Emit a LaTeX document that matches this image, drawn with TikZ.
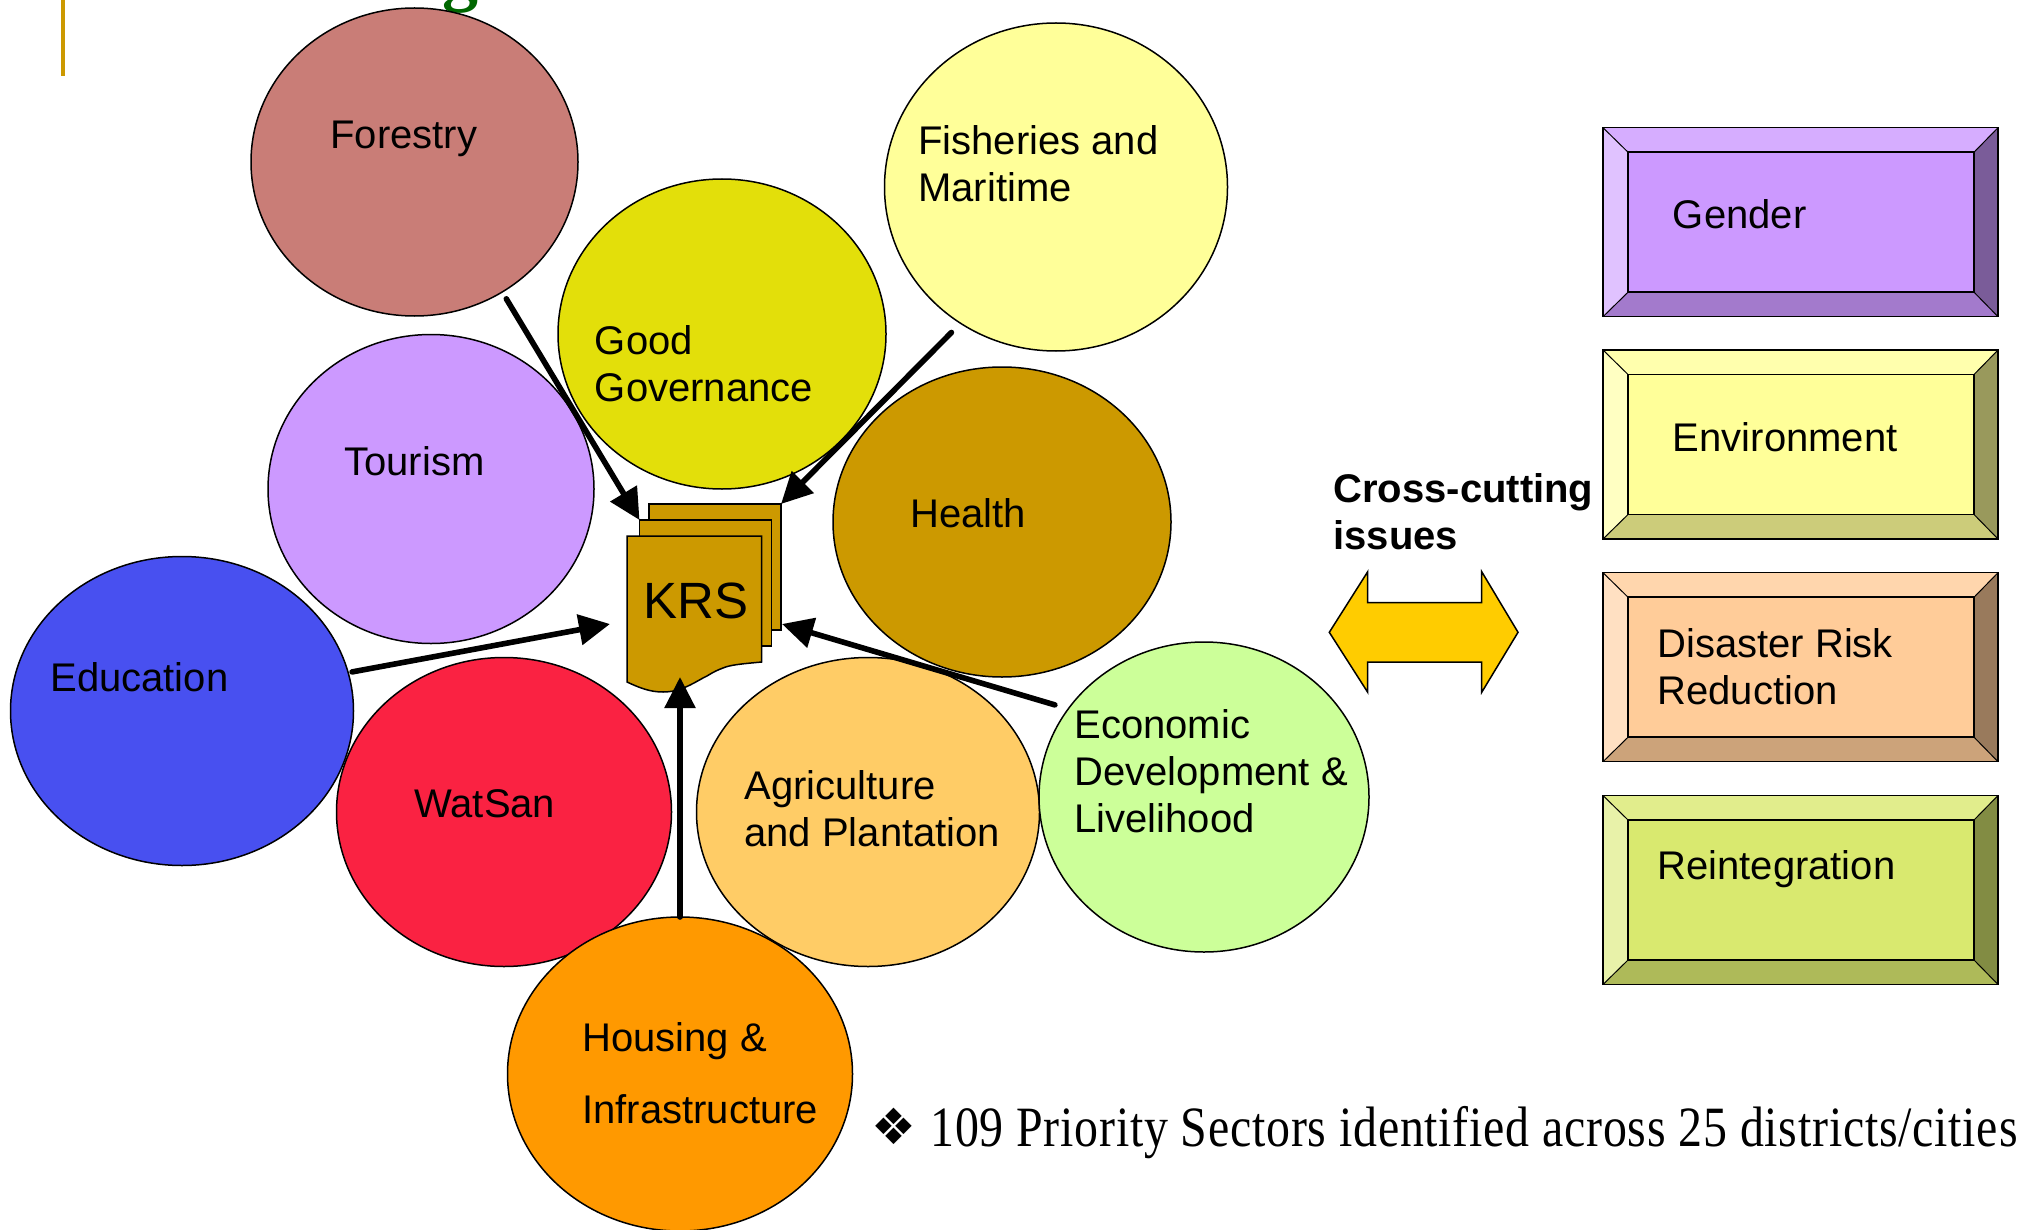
\documentclass[tikz,border=0pt]{standalone}
\usepackage{fontspec}
\setmainfont{Liberation Sans}
\newfontfamily\headingfont{Liberation Serif}
\newfontfamily\bottomfont[FakeStretch=0.84,LetterSpace=1.35]{Liberation Serif}
\newfontfamily\symbolfont{DejaVu Sans}
\usetikzlibrary{arrows.meta,shapes.geometric}
\definecolor{krsgold}{HTML}{CC9900}
\definecolor{gendercol}{HTML}{CC99FF}
\definecolor{environmentcol}{HTML}{FFFF99}
\definecolor{disastercol}{HTML}{FFCC99}
\definecolor{reintegrationcol}{HTML}{D9E96F}
\tikzset{
  sector/.style={draw, ellipse, line width=0.75pt, inner sep=0pt, outer sep=0pt},
  sectortext/.style={anchor=west, align=left, inner sep=0pt, font=\fontsize{20}{23.5}\selectfont},
  docpage/.style={draw, line width=0.75pt, fill=krsgold, inner sep=0pt, outer sep=0pt},
  krsarrow/.style={line width=2.8pt, line cap=round, -{Triangle[length=15.5pt,width=15pt]}},
}
\begin{document}
\begin{tikzpicture}[x=0.5pt, y=-0.5pt]
\def\bevelbox[#1][#2]{
  \fill[#2!60!white] (1603,#1) -- (1628,#1+24.5) -- (1628,#1+164.5) -- (1603,#1+189) -- cycle;
  \fill[#2!80!white] (1603,#1) -- (1998,#1) -- (1974,#1+24.5) -- (1628,#1+24.5) -- cycle;
  \fill[#2!60!black] (1998,#1) -- (1998,#1+189) -- (1974,#1+164.5) -- (1974,#1+24.5) -- cycle;
  \fill[#2!80!black] (1603,#1+189) -- (1998,#1+189) -- (1974,#1+164.5) -- (1628,#1+164.5) -- cycle;
  \draw[line width=0.75pt, fill=#2] (1628,#1+24.5) rectangle (1974,#1+164.5);
  \draw[line width=0.75pt] (1603,#1) rectangle (1998,#1+189);
  \draw[line width=0.5pt] (1603,#1) -- (1628,#1+24.5) (1998,#1) -- (1974,#1+24.5)
    (1603,#1+189) -- (1628,#1+164.5) (1998,#1+189) -- (1974,#1+164.5);
}
\useasboundingbox (0,0) rectangle (2022,1230);

\fill[krsgold] (61,0) rectangle (65,76);
\node[anchor=base, inner sep=0pt, text=green!40!black, font=\headingfont\fontsize{36}{36}\selectfont\bfseries] (headingtail) at (460,-2) {g};

\node[sector, fill={rgb,255:red,201;green,125;blue,119}, minimum width=163.5pt, minimum height=154pt] (forestry) at (414.5,162) {};
\node[sector, fill={rgb,255:red,255;green,255;blue,153}, minimum width=171.5pt, minimum height=164pt] (fisheries) at (1056,187) {};
\node[sector, fill={rgb,255:red,204;green,153;blue,255}, minimum width=163pt, minimum height=154.5pt] (tourism) at (431,489) {};
\node[sector, fill={rgb,255:red,227;green,223;blue,10}, minimum width=164pt, minimum height=155pt] (governance) at (722,334) {};
\node[sector, fill=krsgold, minimum width=169pt, minimum height=155pt] (health) at (1002,522) {};
\node[sector, fill={rgb,255:red,72;green,80;blue,240}, minimum width=171.5pt, minimum height=154.5pt] (education) at (182,711) {};
\node[sector, fill={rgb,255:red,250;green,34;blue,66}, minimum width=167.5pt, minimum height=154.5pt] (watsan) at (504,812) {};
\node[sector, fill={rgb,255:red,255;green,204;blue,102}, minimum width=171.5pt, minimum height=154.5pt] (agriculture) at (868,812) {};
\node[sector, fill={rgb,255:red,204;green,255;blue,153}, minimum width=165pt, minimum height=155pt] (economic) at (1204,797) {};
\node[sector, fill={rgb,255:red,255;green,153;blue,0}, minimum width=172.5pt, minimum height=157pt] (housing) at (680,1074) {};

\node[sectortext] (forestrytext) at (330,139) {Forestry};
\node[sectortext] (fisheriestext) at (918,164) {Fisheries and\\Maritime};
\node[sectortext] (governancetext) at (594.5,363.5) {Good\\Governance};
\node[sectortext] (tourismtext) at (344,461) {Tourism};
\node[sectortext] (healthtext) at (910,513) {Health};
\node[sectortext] (educationtext) at (50,677) {Education};
\node[sectortext] (watsantext) at (414,804) {WatSan};
\node[sectortext] (agriculturetext) at (744,809) {Agriculture\\and Plantation};
\node[sectortext] (economictext) at (1074,771) {Economic\\Development \&\\Livelihood};
\node[sectortext, font=\fontsize{20}{36}\selectfont] (housingtext) at (582,1073) {Housing \&\\Infrastructure};

% KRS document stack
\node[docpage, minimum width=66pt, minimum height=63pt] (krsback) at (715,567) {};
\node[docpage, minimum width=66pt, minimum height=63pt] (krsmiddle) at (705.5,583) {};
\draw[line width=0.75pt, fill=krsgold] (627,536) -- (761.7,536) -- (761.7,662)
  .. controls (740,664) and (730,665) .. (723,668)
  .. controls (712,672) and (708,676) .. (703,678)
  .. controls (692,684) and (680,692) .. (663,692)
  .. controls (650,692) and (640,688) .. (627,682) -- cycle;
\node[inner sep=0pt, font=\fontsize{25.5}{25.5}\selectfont] (krs) at (696,601) {KRS};
\coordinate (krstipleft) at (610,624);
\coordinate (krstipright) at (782,624);
\coordinate (krstipbottom) at (680,677);

\draw[krsarrow, shorten <=4pt] (forestry.-56) -- (krsmiddle.north west);
\draw[krsarrow, shorten <=6.5pt] (fisheries.235) -- (krsback.north east);
\draw[krsarrow, shorten <=2pt] (education.13) -- (krstipleft);
\draw[krsarrow, shorten <=7pt] (economic.147) -- (krstipright);
\draw[krsarrow] (housing.north) -- (krstipbottom);

% cross-cutting issues
\node[sectortext, font=\fontsize{20}{23.5}\selectfont\bfseries] (crosscutting) at (1333,512) {Cross-cutting\\issues};
\draw[line width=0.75pt, fill={rgb,255:red,255;green,204;blue,0}] (1329.3,632.3) -- (1367.7,571.7) -- (1367.7,602.7) -- (1481.7,602.7) -- (1481.7,571.7) -- (1518,632.3) -- (1481.7,692.3) -- (1481.7,662) -- (1367.7,662) -- (1367.7,692.3) -- cycle;

\bevelbox[127.7][gendercol]
\bevelbox[350][environmentcol]
\bevelbox[572.7][disastercol]
\bevelbox[795.5][reintegrationcol]
\node[sectortext] (gendertext) at (1672.5,214) {Gender};
\node[sectortext] (environmenttext) at (1672.5,437) {Environment};
\node[sectortext] (disastertext) at (1657,666.5) {Disaster Risk\\Reduction};
\node[sectortext] (reintegrationtext) at (1657,869) {Reintegration};

\node[anchor=west, inner sep=0pt, font=\symbolfont\fontsize{25}{25}\selectfont] (bullet) at (871,1126) {❖};
\node[anchor=west, inner sep=0pt, font=\bottomfont\fontsize{28.5}{28.5}\selectfont] (prioritytext) at (930,1133) {109 Priority Sectors identified across 25 districts/cities};
\end{tikzpicture}
\end{document}
